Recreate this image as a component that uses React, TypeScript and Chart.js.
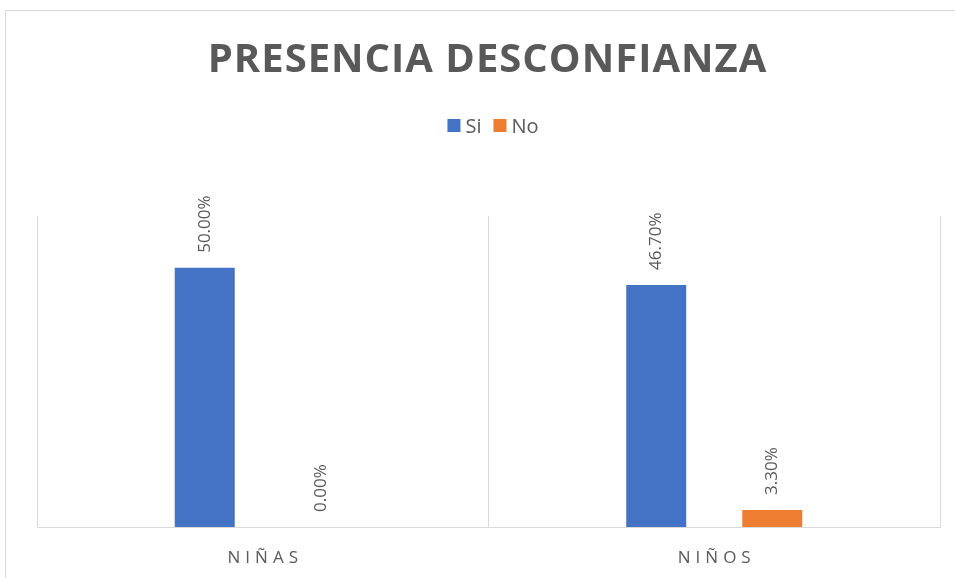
import React, { useEffect, useRef } from "react";
import { Chart, registerables } from "chart.js";

Chart.register(...registerables);

const TITLE = "PRESENCIA DESCONFIANZA";
const categories = ["NIÑAS", "NIÑOS"];
const siValues = [50.0, 46.7];
const noValues = [0.0, 3.3];
const seriesNames = ["Si", "No"];
const seriesColors = ["#4472C4", "#ED7D31"];
const yMax = 60;

const TEXT = "#595959";
const FONT = '"Open Sans", "Noto Sans", sans-serif';

const drawPlugin = {
  id: "customDraw",
  afterDraw(chart: any) {
    const ctx = chart.ctx as CanvasRenderingContext2D;
    const xScale = chart.scales.x;
    ctx.save();
    // Title
    ctx.fillStyle = TEXT;
    ctx.font = `bold 40px ${FONT}`;
    (ctx as any).letterSpacing = "1px";
    ctx.textAlign = "left";
    ctx.textBaseline = "alphabetic";
    const tw = ctx.measureText(TITLE).width - 1;
    ctx.fillText(TITLE, 487 - tw / 2, 72);

    // Legend
    (ctx as any).letterSpacing = "0px";
    ctx.font = `20px ${FONT}`;
    const box = 13;
    const gapT = 5;
    const gapI = 12;
    const ds = chart.data.datasets;
    const widths = ds.map((d: any) => ctx.measureText(d.label).width);
    let total = 0;
    widths.forEach((w: number, i: number) => {
      total += box + gapT + w + (i < widths.length - 1 ? gapI : 0);
    });
    let lx = 493 - total / 2;
    ds.forEach((d: any, i: number) => {
      ctx.fillStyle = d.backgroundColor;
      ctx.fillRect(lx, 119, box, box);
      lx += box + gapT;
      ctx.fillStyle = TEXT;
      ctx.fillText(d.label, lx, 133);
      lx += widths[i] + gapI;
    });

    // X labels
    ctx.font = `17px ${FONT}`;
    (ctx as any).letterSpacing = "5px";
    chart.data.labels.forEach((lab: string, i: number) => {
      const cx = xScale.getPixelForValue(i);
      const w = ctx.measureText(lab).width - 5;
      ctx.fillStyle = TEXT;
      ctx.fillText(lab, cx - w / 2, 563);
    });

    // Data labels
    (ctx as any).letterSpacing = "0px";
    ctx.font = `17px ${FONT}`;
    ctx.textBaseline = "middle";
    ds.forEach((d: any, di: number) => {
      const meta = chart.getDatasetMeta(di);
      meta.data.forEach((el: any, i: number) => {
        const v = d.data[i];
        ctx.save();
        ctx.translate(el.x, el.y - 15);
        ctx.rotate(-Math.PI / 2);
        ctx.fillStyle = TEXT;
        ctx.textAlign = "left";
        ctx.fillText(v.toFixed(2) + "%", 0, 0);
        ctx.restore();
      });
    });
    ctx.restore();
  },
};

export default function App() {
  const ref = useRef<HTMLCanvasElement | null>(null);
  useEffect(() => {
    if (!ref.current) return;
    const chart = new Chart(ref.current, {
      type: "bar",
      data: {
        labels: categories,
        datasets: [
          {
            label: seriesNames[0],
            data: siValues,
            backgroundColor: seriesColors[0],
            categoryPercentage: 0.514,
            barPercentage: 0.517,
          },
          {
            label: seriesNames[1],
            data: noValues,
            backgroundColor: seriesColors[1],
            categoryPercentage: 0.514,
            barPercentage: 0.517,
          },
        ],
      },
      options: {
        responsive: false,
        animation: false,
        layout: { padding: { left: 37, right: 15, top: 216, bottom: 51 } },
        plugins: {
          legend: { display: false },
          title: { display: false },
          tooltip: { enabled: false },
        },
        scales: {
          x: {
            offset: true,
            grid: {
              offset: true,
              color: "#D9D9D9",
              lineWidth: 1,
              drawTicks: false,
              tickLength: 0,
            },
            border: { display: true, color: "#D9D9D9", width: 1 },
            ticks: { display: false },
          },
          y: {
            display: false,
            min: 0,
            max: yMax,
          },
        },
      },
      plugins: [drawPlugin],
    });
    return () => chart.destroy();
  }, []);

  return (
    <div
      style={{
        position: "absolute",
        left: 0,
        top: 0,
        width: 955,
        height: 578,
        overflow: "hidden",
        background: "#fff",
      }}
    >
      <div
        style={{
          position: "absolute",
          left: 5,
          top: 10,
          width: 970,
          height: 600,
          border: "1px solid #D9D9D9",
        }}
      />
      <canvas
        ref={ref}
        width={955}
        height={578}
        style={{ position: "absolute", left: 0, top: 0 }}
      />
    </div>
  );
}
